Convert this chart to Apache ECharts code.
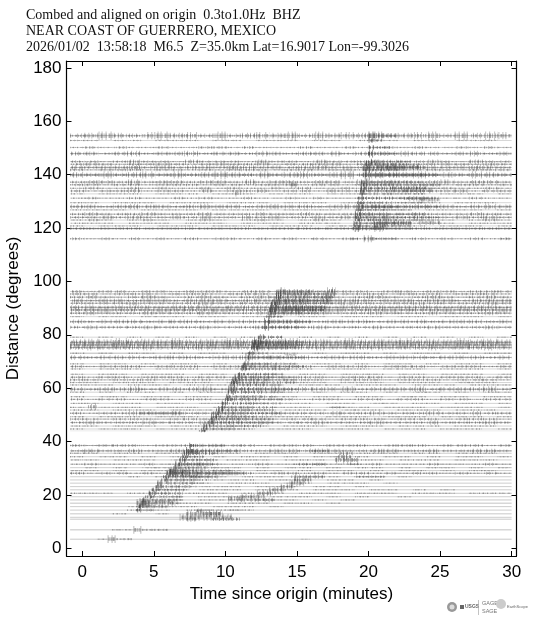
<!DOCTYPE html>
<html><head><meta charset="utf-8">
<style>html,body{margin:0;padding:0;background:#fff}#c{width:555px;height:618px}</style>
<script src="https://cdn.jsdelivr.net/npm/echarts@6/dist/echarts.min.js"></script>
</head><body><div id="c"></div>
<script>
// ---- values, one entry per station trace ----
const traceDistance = [
154.6,152.8,150.2,147.9,144.9,143.9,142.7,141.8,139.9,137.2,136.2,134.9,133.9,132.8,131.2,129.5,128,126.8,125.2,124,123,121.8,120.8,119.8,116,
96.2,95.3,94.1,92.8,91.8,90.3,89.3,88.1,86.8,84.9,82.8,79.1,77.2,76.2,75.2,73.1,71.5,69.1,68.1,67.2,65.2,64.1,63.1,62.1,61.2,59.6,58.5,56.8,55.8,54.3,52.8,51.8,50.6,49.3,48.4,47.1,45.8,44.7,44,
38.5,36.5,35.6,34.3,33.1,31.5,30.2,29.1,28.1,26.8,25.6,24.4,23.1,21.9,20.6,19.3,18.1,16.9,15.6,14.3,12.9,11.6,10.9,6.9,3.4];
// noise level of each trace per minute, from t = -0.85 to t = 30
const traceNoise = [
"3464356453634546364546345636465","1101101110110111011011101101110","1212112112212111211211212112121","3323423342332432334233243323423","2212322132221322132223122321322","2321223212322312223123212232132","3233423233243232342323324323432","2122212212122212212212221221222","4353453534643534534635345343543","2332423323324233233242332342332","2212212221221222122122212212212","1211212112121121211212112121121","2122312213122312213221231223122","1011101110111011101110111011101","1211211212112112121121121211211","1101110111011101110111011101110","3323433234332343323433234332343","1111011110111101111011110111101","2322232223222322322232223222322","2232322323223232232322323223232","1210121012101210121012101210121","1110111011101110111011101110111","1011101110111011101110111011101","2222222222222222222222222222222","2121212121221212121212212121212",
"2122122122212212212221221221222","2212221222122212221222122212221","2321232123212321232123212321232","3233233233323323323332332332333","2222322223222232222322223222232","3323332333233323332333233323332","3343334333433343334333433343334","2322232223222322232223222322232","1011011101101110110111011011101","3233323332333233323332333233323","2322232223222322232223222322232","1010101010101010101010101010101","4546454645464546454645464546454","4445444544454445444544454445444","3433343334333433343334333433343","1010110101101011010110101101011","3233323332333233323332333233323","1011010110101101011010110101101","2122212221222122212221222122212","1011101110111011101110111011101","1011011101101110110111011011101","2122122212212221221222122122212","2212221222122212221222122212221","1101110111011101110111011101110","1110111011101110111011101110111","3233423334233342333423334233342","1010110101101011010110101101011","1011011011011011011011011011011","2122122122122122122122122122122","1101101101101101101101101101101","1011101110111011101110111011101","1101110111011101110111011101110","2122322322232232223223222322322","1011101110111011101110111011101","2212221222122212221222122212221","2322232223222322232223222322232","1101110111011101110111011101110","1011101110111011101110111011101","0000000000000000000000000000000",
"2122212221222122212221222122212","2322322332232233223223322322332","1101101110110111011011101101110","1011010110101101011010110101101","1101110111011101110111011101110","1211121112111211121112111211121","0101011010110101101011010110101","1101011010110110101101011010110","2122121212212122121221212212121","0000101011101110111011010000000","0000000110111011101101000000000","0000000011011101101110100000000","0000000101110111011010000000000","0000001101110111011101101010000","1110111011101110111011101110111","0000000101111011101010010000000","0000000101110111010100000000000","0000010111011101101000000000000","0000101110111010000000000000000","0000111011010000000000000000000","0001001000000000000000000000000","0000000000000000000000000000000","0000000000000000000000000000000","0000000000000000000000000000000","0000000000000000000000000000000"];
// first arrival per trace (minutes), 0 where the trace shows none
const traceArrival = [
20,20,19.95,19.9,19.75,19.7,19.65,19.6,19.6,19.5,19.45,19.4,19.35,19.3,19.25,19.2,19.15,19.1,19.05,19,18.98,18.95,18.95,18.9,0,
13.65,13.55,13.4,13.3,13.2,13.1,13.05,13,12.85,12.7,12.55,12.2,12,11.9,11.8,11.6,11.4,11.2,11.1,11,10.8,10.65,10.5,10.4,10.3,10.2,10.1,10,9.9,9.75,9.5,9.35,9.15,9,8.9,8.7,8.45,8.25,8.15,
7.4,7.25,7.1,6.9,6.7,6.5,6.3,6.1,5.9,5.65,5.45,5.25,5.05,4.85,4.65,4.4,4.2,4,3.85,3.7,0,0,0,0,0];
const tracePeak = [
9,5,5,8,6,7,7,6,10,8,7,6,6,5,6,5,9,5,7,7,5,5,5,7,0,
9,9,9,9,8,10,10,8,5,8,7,6,10,10,8,5,8,6,7,5,5,7,6,6,6,8,6,6,7,6,6,6,7,6,7,7,6,5,3,
6,8,6,5,6,7,6,8,9,6,6,6,6,5,6,5,6,10,6,5,0,0,0,0,0];
const traceCodaEnd = [
22,21,21.5,22,23,23,24,22.5,24,24,25,25,24,24,24.5,24,25,23,24,25,24,23,23,23,0,
17,17,17.5,17.5,17.5,17,17,16.5,14,16,15.5,14,15.5,15.5,15,13,15.5,15,15.5,14.5,14,15,15,15,14,15,14,13.5,14,14,13.5,13.5,14,13,13.5,13.5,12.5,11.5,8.3,
10,11,9.5,8.5,9.5,9.5,9.5,10.5,11.5,9,9,8.5,8,7.5,7,7,7,6.8,6,5,0,0,0,0,0];
const traceCodaAmp = [
3,2,2,3,3,3,4,2,4,3,4,2,3,2,3,2,3,2,3,3,3,3,3,3,0,
3,3,3,4,3,4,4,3,2,3,3,2,4,4,3,2,3,3,3,3,3,3,3,3,3,4,3,3,3,3,3,3,3,3,3,3,3,2,1,
2,3,2,2,2,3,2,3,4,2,2,2,2,2,2,2,2,3,2,2,0,0,0,0,0];
const traceBaseGray = [
185,215,215,180,200,200,185,205,130,195,205,210,200,215,210,215,170,215,195,195,210,215,215,130,210,
205,205,195,180,205,175,165,195,215,175,195,215,165,165,180,185,175,210,195,215,210,200,205,210,210,170,210,210,205,210,210,210,195,210,205,195,210,210,235,
190,180,205,205,205,195,205,205,195,205,205,205,205,205,200,205,200,195,205,205,200,205,200,195,200];
// local wave packets: distance, start, end, half-amplitude level
const waveBursts = [
[133,10.7,11.1,8],[136.2,14.6,15,8],[116,18.7,19.3,4],[116,19.6,20.4,9],[116,20.4,22,3],[116,29.2,29.7,3],
[143,20.5,23.5,8],[142.7,21,22.5,7],[134,22.5,24.5,7],[135,21.5,24,6],[131,22.5,24,7],[130.6,23.5,25,8],[122,20.3,23,6],[120.8,20.3,21.2,10],[120,20.2,21,10],[121.8,20.5,23,7],[122,23.5,25,6],[128,20,22,5],[139.9,20,25,6],
[96.5,17.1,17.7,9],[95.3,16.9,17.7,9],[94.1,16.7,17.4,9],[92.8,16.6,17.2,8],[90.3,14,17,6],[89.3,14,17,5],[92.8,14,16.5,5],
[53,0.4,1,8],[50.6,4,7,5],[72.5,14,15,3],[77.2,12,13,7],[52.8,17.4,18.4,3],
[36,7.4,8.4,8],[31.5,6.7,8.5,5],[28.7,5.9,7.4,10],[28,5.9,7.5,9],[27,6,8,6],[28.1,7.5,11,6],[26.8,7.5,9.5,5],
[16.9,3.8,4.6,11],[16,4,5,7],[17.5,4.2,6.3,5],[14,8,8.4,6],
[11.6,6.8,10.5,9],[12.9,7.2,9.8,9],[10.9,7.2,8,7],[13,8.5,9.7,8],[10.9,9,11,5],[14.3,8,12,2],
[18.6,10.2,11.2,8],[19.3,11,12.8,8],[18.1,11,13.5,6],[20.6,12.2,13.5,8],[21.9,13,14.2,8],[23.1,13.8,14.8,8],[24.4,14.4,15.5,8],[25.6,14.8,16,7],[26.8,14.6,15.2,7],[26.8,15.2,17,5],
[31.5,14.8,17,4],[36.5,15.9,17.2,6],[33.1,17.6,19.3,10],[34.3,17.8,18.8,8],[35.6,18,19,5],[31.5,18.5,19.5,3],[26.8,19,21.2,3],
[6.9,3.5,4.2,10],[6.9,2.1,3.5,2],[6.9,4.2,6,3],[3.4,1.7,2.4,10],[3.4,1,1.7,2],[3.4,2.4,3.5,3],[3.4,15.2,15.9,1]];
// axis ticks and labels
const xTicks = [0,5,10,15,20,25,30];
const yTicks = [0,20,40,60,80,100,120,140,160,180];
const titleLines = ["Combed and aligned on origin  0.3to1.0Hz  BHZ","NEAR COAST OF GUERRERO, MEXICO","2026/01/02  13:58:18  M6.5  Z=35.0km Lat=16.9017 Lon=-99.3026"];

// ---- build marks ----
const TRACE_START = -0.85, TRACE_END = 30, LEVEL = 0.12, NOISE_GAIN = 1.5;
const denseDash = [[1,1,1,2,2,1],[1,2,2,1,1,1],[2,1,1,1,1,2],[1,1,2,2,1,1],[1,2,1,1,2,1]];
const sparseDash = [[1,3,1,2,1,5],[1,4,1,2,1,3],[1,2,1,6,1,3],[1,5,1,3,1,2],[1,3,1,4,1,2]];
const baseData = [], markData = [];
// every level is drawn as a short dense texture plus taller, sparser spikes
function addMark(d,t0,t1,level,idx,op){
  markData.push([d,t0,t1,level*0.75,idx%5,idx,op,0]);
  markData.push([d,t0,t1,level*1.5,(idx+2)%5,idx+1,op*0.8,1]);
}
traceDistance.forEach((d,i)=>{
  const g = traceBaseGray[i];
  baseData.push([d,TRACE_START,TRACE_END,g]);
  const s = traceNoise[i], w = (TRACE_END-TRACE_START)/s.length;
  for (let k=0;k<s.length;k++){
    const a = +s[k];
    if (a>0) addMark(d,TRACE_START+k*w,TRACE_START+(k+1)*w,a*NOISE_GAIN,i+k,0.42);
  }
  const ta = traceArrival[i];
  if (ta>0){
    const mid = Math.min(ta+2.5,traceCodaEnd[i]);
    addMark(d,ta,ta+0.5,tracePeak[i],i+1,0.7);
    addMark(d,ta+0.5,mid,tracePeak[i]*0.6,i+2,0.5);
    addMark(d,mid,traceCodaEnd[i],traceCodaAmp[i],i+3,0.42);
  }
});
waveBursts.forEach((b,i)=>addMark(b[0],b[1],b[2],b[3]*0.8,i,0.45));

function renderBase(p,api){
  const a=api.coord([api.value(1),api.value(0)]), b=api.coord([api.value(2),api.value(0)]);
  const g=api.value(3);
  return {type:'line',shape:{x1:a[0],y1:a[1],x2:b[0],y2:b[1]},style:{stroke:`rgb(${g},${g},${g})`,lineWidth:1},silent:true};
}
function renderMark(p,api){
  const a=api.coord([api.value(1),api.value(0)]), b=api.coord([api.value(2),api.value(0)]);
  const h=Math.abs(api.size([0,api.value(3)*LEVEL])[1])*2;
  const set=api.value(7)?sparseDash:denseDash;
  return {type:'line',shape:{x1:a[0],y1:a[1],x2:b[0],y2:b[1]},
    style:{stroke:'#444',lineWidth:h,lineDash:set[api.value(4)],lineDashOffset:api.value(5)*3,opacity:api.value(6)},silent:true};
}

const axisFont = {fontFamily:'"Liberation Sans",sans-serif',fontSize:17,color:'#000'};
const line = {show:true,onZero:false,lineStyle:{color:'#000',width:1.2}};
const option = {
  animation:false,backgroundColor:'#fff',
  grid:{left:66.5,right:38.5,top:61,bottom:62,outerBoundsMode:'none'},
  xAxis:[
   {type:'value',min:-1.1,max:30.34,position:'bottom',axisLine:line,splitLine:{show:false},
    axisTick:{inside:true,length:5,customValues:xTicks,lineStyle:{color:'#000',width:1}},
    axisLabel:{...axisFont,margin:8,customValues:xTicks,showMinLabel:true,showMaxLabel:true},
    name:'Time since origin (minutes)',nameLocation:'middle',nameGap:28,nameTextStyle:{...axisFont}},
   {type:'value',min:-1.1,max:30.34,position:'top',axisLine:line,splitLine:{show:false},
    axisTick:{inside:true,length:5,customValues:xTicks,lineStyle:{color:'#000',width:1}},axisLabel:{show:false}}],
  yAxis:[
   {type:'value',min:-2.9,max:182.6,position:'left',axisLine:line,splitLine:{show:false},
    axisTick:{inside:true,length:5,customValues:yTicks,lineStyle:{color:'#000',width:1}},
    axisLabel:{...axisFont,margin:5,customValues:yTicks},
    name:'Distance (degrees)',nameLocation:'middle',nameGap:40,nameTextStyle:{...axisFont}},
   {type:'value',min:-2.9,max:182.6,position:'right',axisLine:line,splitLine:{show:false},
    axisTick:{inside:true,length:5,customValues:yTicks,lineStyle:{color:'#000',width:1}},axisLabel:{show:false}}],
  series:[
   {type:'custom',coordinateSystem:'cartesian2d',renderItem:renderBase,data:baseData,silent:true,clip:true,encode:{x:[1,2],y:0}},
   {type:'custom',coordinateSystem:'cartesian2d',renderItem:renderMark,data:markData,silent:true,clip:true,encode:{x:[1,2],y:0}}],
  graphic:[
   ...titleLines.map((t,i)=>({type:'text',left:26,top:8+i*16,silent:true,
     style:{text:t,font:'14px "Liberation Serif",serif',fill:'#111'}})),
   {type:'circle',shape:{cx:452,cy:607,r:5},style:{fill:'#999'},silent:true},
   {type:'circle',shape:{cx:452,cy:607,r:2.5},style:{fill:'#ddd'},silent:true},
   {type:'rect',shape:{x:460,y:605,width:4,height:4},style:{fill:'#666'},silent:true},
   {type:'text',left:465,top:604,silent:true,style:{text:'USGS',font:'bold 5px "Liberation Sans"',fill:'#666'}},
   {type:'rect',shape:{x:478,y:600,width:0.7,height:15},style:{fill:'#aaa'},silent:true},
   {type:'text',left:482,top:600,silent:true,style:{text:'GAGE',font:'5.5px "Liberation Sans"',fill:'#777'}},
   {type:'text',left:482,top:608,silent:true,style:{text:'SAGE',font:'5.5px "Liberation Sans"',fill:'#777'}},
   {type:'circle',shape:{cx:501,cy:604,r:5},style:{fill:'#ccc'},silent:true},
   {type:'text',left:507,top:605,silent:true,style:{text:'EarthScope',font:'4px "Liberation Sans"',fill:'#666'}}
  ]
};
const chart = echarts.init(document.getElementById('c'),null,{renderer:'canvas'});
chart.setOption(option);
</script></body></html>
